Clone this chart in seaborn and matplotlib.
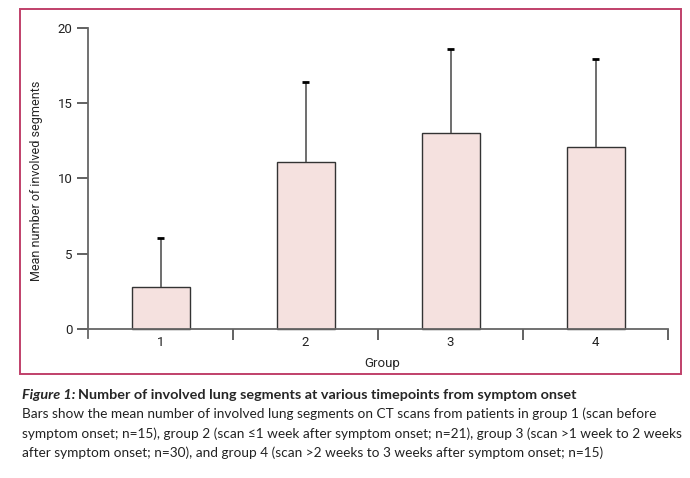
import matplotlib
matplotlib.use("Agg")
import matplotlib.pyplot as plt
import pandas as pd
import seaborn as sns
from matplotlib.patches import Rectangle

# Data
groups = ["1", "2", "3", "4"]
means = [2.8, 11.1, 13.0, 12.1]
sd_upper = [3.25, 5.3, 5.6, 5.85]
y_ticks = [0, 5, 10, 15, 20]

df = pd.DataFrame({"Group": groups, "Mean": means})

sns.set_style("white")
plt.rcParams["font.family"] = ["Roboto", "DejaVu Sans"]

fig = plt.figure(figsize=(6.9, 4.78), dpi=100)
ax = fig.add_axes([88 / 690, 1 - 338 / 478, 580 / 690, 310 / 478])

sns.barplot(data=df, x="Group", y="Mean", color="#f5e1df", width=0.4,
            edgecolor="#333333", linewidth=1.0, saturation=1, ax=ax)

# upper-only error bars
for i, (m, s) in enumerate(zip(means, sd_upper)):
    ax.vlines(i, m, m + s, color="#555555", linewidth=1.2, zorder=1)
    ax.hlines(m + s, i - 0.026, i + 0.026, color="black", linewidth=2, zorder=3)

ax.set_xlim(-0.5, 3.5)
ax.set_ylim(-0.6, 20)
ax.set_yticks(y_ticks)
ax.spines["bottom"].set_position(("data", 0))
ax.spines["left"].set_bounds(-0.6, 20)
for sp in ["top", "right"]:
    ax.spines[sp].set_visible(False)
for sp in ["left", "bottom"]:
    ax.spines[sp].set_color("#666666")
    ax.spines[sp].set_linewidth(1.3)

# x tick marks at the category boundaries, labels at centres
ax.set_xticks([0.5, 1.5, 2.5, 3.5])
ax.set_xticklabels([])
ax.set_xticks(range(len(groups)), minor=True)
ax.set_xticklabels(groups, minor=True)
ax.tick_params(axis="x", which="major", direction="out", length=8, width=1.3, color="#555555", bottom=True)
ax.tick_params(axis="x", which="minor", length=0, labelsize=9.5, labelcolor="#222222", pad=5, bottom=True)
ax.tick_params(axis="y", direction="out", length=8, width=1.3, color="#555555", labelsize=9.5,
               labelcolor="#222222", left=True, pad=3)

ax.set_xlabel("Group", fontsize=9.5)
ax.set_ylabel("Mean number of involved segments", fontsize=9)
ax.xaxis.set_label_coords((382 - 88) / 580, -(357 - 338) / 310)
ax.yaxis.set_label_coords(-(88 - 43) / 580, (338 - 181) / 310)

# pink frame around the chart
fig.patches.append(Rectangle((20 / 690, 1 - 374 / 478), 661 / 690, 365 / 478,
                             transform=fig.transFigure, fill=False,
                             edgecolor="#c0406a", linewidth=1.4))

# caption
cap_font = ["Lato", "DejaVu Sans"]
t1 = fig.text(22 / 690, 1 - 395 / 478, "Figure 1:", fontsize=10.4, fontweight="bold", style="italic",
              family=cap_font, va="center")
fig.canvas.draw()
bb = t1.get_window_extent()
fig.text(bb.x1 / fig.bbox.width + 3 / 690, 1 - 395 / 478,
         "Number of involved lung segments at various timepoints from symptom onset",
         fontsize=10.4, fontweight="bold", family=cap_font, va="center")
caption = [
    "Bars show the mean number of involved lung segments on CT scans from patients in group 1 (scan before",
    "symptom onset; n=15), group 2 (scan \u22641 week after symptom onset; n=21), group 3 (scan >1 week to 2 weeks",
    "after symptom onset; n=30), and group 4 (scan >2 weeks to 3 weeks after symptom onset; n=15)",
]
for k, line in enumerate(caption):
    fig.text(22 / 690, 1 - (414 + 19.5 * k) / 478, line, fontsize=9.8, family=cap_font,
             va="center", color="#222222")

fig.savefig("out.png", dpi=100)
